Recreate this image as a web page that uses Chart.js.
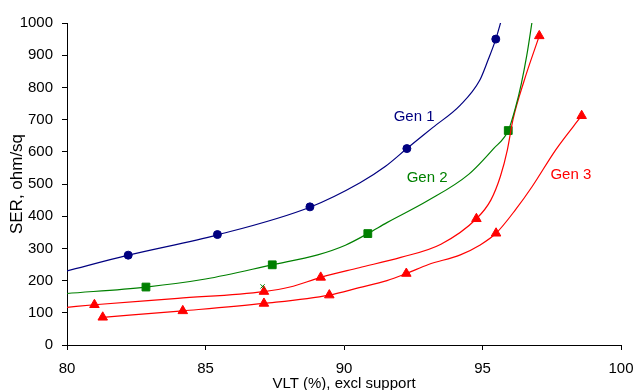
<!DOCTYPE html>
<html>
<head>
<meta charset="utf-8">
<script src="https://cdn.jsdelivr.net/npm/chart.js@4.4.0/dist/chart.umd.min.js"></script>
<style>
  html, body { margin: 0; padding: 0; background: #fff; }
  #wrap { width: 636px; height: 390px; position: relative; }
</style>
</head>
<body>
<div id="wrap"><canvas id="chart"></canvas></div>
<script>
// Measured markers
const gen1X = [82.21, 85.43, 88.77, 92.27, 95.48];
const gen1Y = [279, 343, 429, 610, 950];
const gen2X = [82.85, 87.41, 90.86, 95.93];
const gen2Y = [180, 249, 346, 666];
const gen3aX = [80.99, 87.11, 89.16, 94.78, 97.05];
const gen3aY = [125, 166, 210, 392, 960];
const gen3bX = [81.29, 84.18, 87.11, 89.47, 92.25, 95.49, 98.58];
const gen3bY = [86, 106, 129, 155, 222, 347, 712];
const crossX = [87.06];
const crossY = [182];

// Fitted curves
const fit1X = [80, 82.21, 85.43, 88.77, 90.58, 91.5, 92.27, 93.2, 94.2, 94.9, 95.2, 95.48, 95.7];
const fit1Y = [230, 279, 342, 428, 504, 555, 610, 675, 745, 822, 885, 950, 1015];
const fit2X = [80, 82.85, 85, 87.41, 89.05, 90.05, 90.86, 91.55, 93.0, 94.5, 95.4, 95.93, 96.2, 96.4, 96.6, 96.8];
const fit2Y = [160, 180, 205, 249, 280, 310, 346, 380, 447, 530, 610, 666, 740, 811, 900, 1010];
const fit3aX = [80, 80.99, 84, 87.11, 88.05, 89.16, 90.55, 92.05, 93.5, 94.78, 95.3, 95.65, 95.9, 96.1, 96.5, 97.05];
const fit3aY = [117, 125, 145, 166, 180, 210, 240, 272, 313, 392, 450, 525, 607, 700, 820, 960];
const fit3bX = [81.29, 84.18, 87.11, 89.47, 90.55, 91.55, 92.25, 93.05, 94.2, 94.9, 95.49, 96.2, 96.8, 97.65, 98.58];
const fit3bY = [86, 106, 129, 155, 178, 200, 222, 250, 280, 310, 347, 421, 493, 607, 712];

const seriesLabels = ['Gen 1', 'Gen 2', 'Gen 3'];
const labelX = [92.53, 93.0, 98.19];
const labelY = [707, 518, 527];

const NAVY = '#000080', GREEN = '#008000', RED = '#ff0000';

const pts = (xs, ys) => xs.map((x, i) => ({ x: x, y: ys[i] }));

function curve(xs, ys, color) {
    return {
        data: pts(xs, ys),
        showLine: true,
        borderColor: color,
        borderWidth: 1.2,
        pointRadius: 0,
        cubicInterpolationMode: 'monotone'
    };
}

function markers(xs, ys, color, style, r) {
    return {
        data: pts(xs, ys),
        showLine: false,
        pointStyle: style,
        pointRadius: r,
        backgroundColor: color,
        borderColor: color,
        borderWidth: 1,
        clip: false
    };
}

// Series name labels placed in data coordinates
const seriesLabelPlugin = {
    id: 'seriesLabels',
    afterDatasetsDraw(chart) {
        const { ctx, scales } = chart;
        const colors = [NAVY, GREEN, RED];
        ctx.save();
        ctx.font = '15px "Liberation Sans", Arial, sans-serif';
        ctx.textAlign = 'center';
        ctx.textBaseline = 'middle';
        seriesLabels.forEach((t, i) => {
            ctx.fillStyle = colors[i];
            ctx.fillText(t, scales.x.getPixelForValue(labelX[i]), scales.y.getPixelForValue(labelY[i]));
        });
        ctx.restore();
    }
};

const tickFont = { family: '"Liberation Sans", Arial, sans-serif', size: 15 };

new Chart(document.getElementById('chart'), {
    type: 'scatter',
    data: {
        datasets: [
            curve(fit1X, fit1Y, NAVY),
            curve(fit2X, fit2Y, GREEN),
            curve(fit3aX, fit3aY, RED),
            curve(fit3bX, fit3bY, RED),
            markers(gen1X, gen1Y, NAVY, 'circle', 4),
            markers(gen2X, gen2Y, GREEN, 'rect', 5.5),
            markers(crossX, crossY, GREEN, 'crossRot', 3),
            markers(gen3aX, gen3aY, RED, 'triangle', 5.5),
            markers(gen3bX, gen3bY, RED, 'triangle', 5.5)
        ]
    },
    options: {
        responsive: true,
        maintainAspectRatio: false,
        animation: false,
        layout: { padding: { top: 23, right: 15, left: 0, bottom: 0 } },
        plugins: {
            legend: { display: false },
            tooltip: { enabled: false }
        },
        scales: {
            x: {
                type: 'linear',
                min: 80,
                max: 100,
                ticks: { stepSize: 5, color: '#000', font: tickFont, padding: 10, maxRotation: 0 },
                grid: { drawOnChartArea: false, drawTicks: true, tickLength: 5, color: '#000' },
                border: { display: true, color: '#000', width: 1 },
                title: {
                    display: true,
                    text: 'VLT (%), excl support',
                    color: '#000',
                    font: tickFont,
                    padding: { top: 0, bottom: -3 }
                },
                afterFit: (scale) => {
                    scale.height = 45;
                    scale.paddingLeft = 0;
                    scale.paddingRight = 0;
                }
            },
            y: {
                min: 0,
                max: 1000,
                ticks: {
                    stepSize: 100,
                    color: '#000',
                    font: tickFont,
                    padding: 9,
                    callback: (v) => String(v)
                },
                grid: { drawOnChartArea: false, drawTicks: true, tickLength: 5, color: '#000' },
                border: { display: true, color: '#000', width: 1 },
                title: {
                    display: true,
                    text: 'SER, ohm/sq',
                    color: '#000',
                    font: { family: '"Liberation Sans", Arial, sans-serif', size: 17 },
                    padding: { top: 7, bottom: 0 }
                },
                afterFit: (scale) => { scale.width = 67; }
            }
        }
    },
    plugins: [seriesLabelPlugin]
});
</script>
</body>
</html>
